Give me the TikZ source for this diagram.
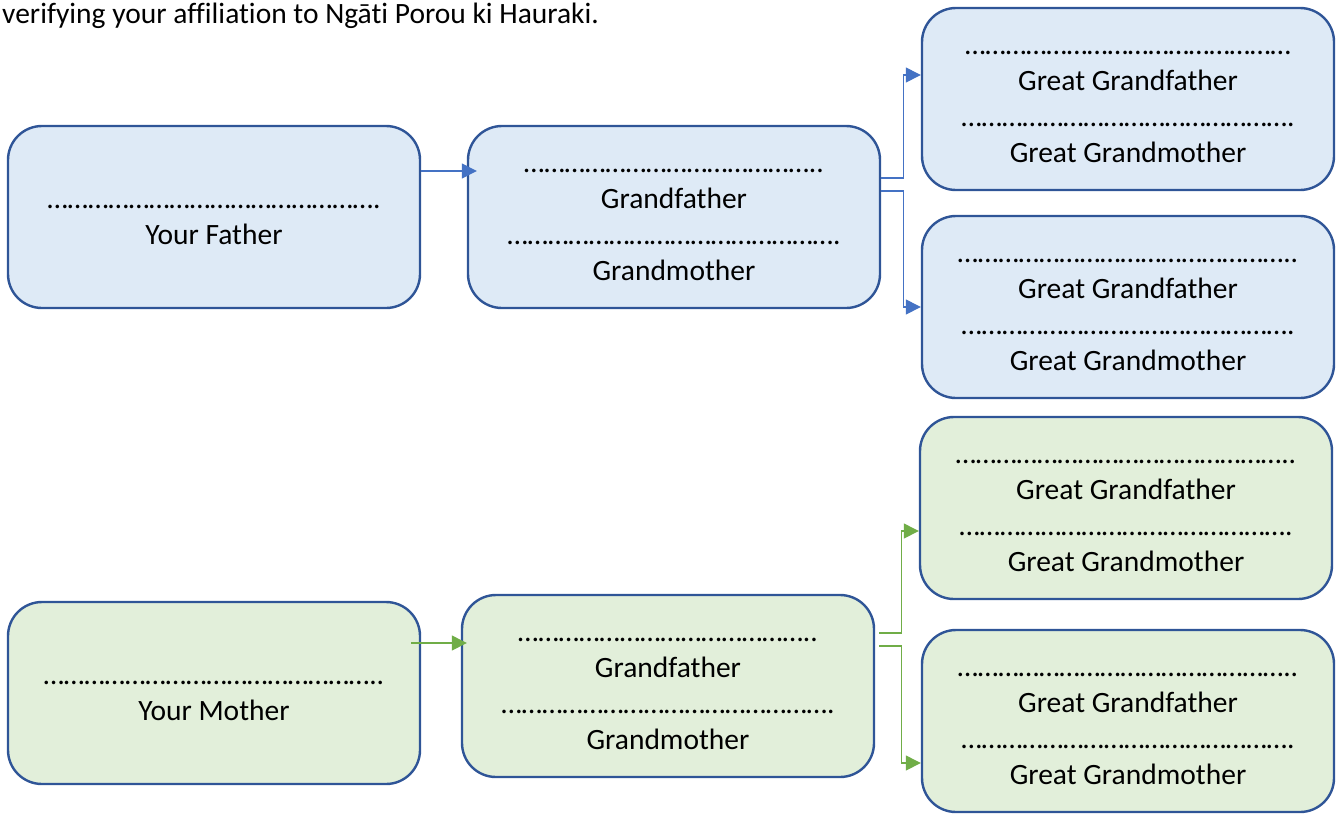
\documentclass[tikz,border=0pt]{standalone}
\usepackage{fontspec}
\setmainfont{Carlito}
\usepackage{tikz}
\usetikzlibrary{arrows.meta,positioning}

\definecolor{boxline}{HTML}{2F5597}
\definecolor{bluefill}{HTML}{DEEAF6}
\definecolor{greenfill}{HTML}{E2EFDA}
\definecolor{blueline}{HTML}{4472C4}
\definecolor{greenline}{HTML}{70AD47}

% row of ellipsis characters to write a name on
\newcommand{\nameline}[2]{\foreach \k in {1,...,#1}{…}#2}
% same, as the first row of a box (a bit lower)
\newcommand{\topline}[2]{\rule{0pt}{19pt}\nameline{#1}{#2}}

\tikzset{
  person/.style={draw=boxline,line width=2.4pt,rounded corners=34pt,
    minimum width=412pt,minimum height=182pt,align=center,
    font=\fontsize{29.5}{36}\selectfont},
  dad/.style={person,fill=bluefill},
  mum/.style={person,fill=greenfill},
  bluearrow/.style={draw=blueline,line width=1.3pt,-{Triangle[length=15pt,width=15pt]}},
  greenarrow/.style={draw=greenline,line width=1.3pt,-{Triangle[length=15pt,width=15pt]}}
}

\begin{document}
\begin{tikzpicture}[x=1pt,y=-1pt]
    \useasboundingbox (0,0) rectangle (1337,814);

    % heading line
    \node[anchor=base west,inner sep=0pt,
          font=\fontsize{29.5}{34}\selectfont\addfontfeature{RawFeature=-liga}] (intro) at (2,23)
        {verifying your affiliation to Ngāti Porou ki Hauraki.};

    % father's side
    \node[dad] (fa) at (214,217) {\topline{16}{.}\\Your Father};
    \node[dad] (gpF) at (674,217) {\topline{14}{..}\\Grandfather\\\nameline{16}{.}\\Grandmother};
    \node[dad] (ggA) at (1128,99) {\topline{16}{}\\Great Grandfather\\\nameline{16}{.}\\Great Grandmother};
    \node[dad] (ggB) at (1128,307) {\topline{16}{..}\\Great Grandfather\\\nameline{16}{.}\\Great Grandmother};

    % mother's side
    \node[mum] (mo) at (214,693) {\topline{16}{..}\\Your Mother};
    \node[mum] (gpM) at (668,686) {\topline{14}{..}\\Grandfather\\\nameline{16}{.}\\Grandmother};
    \node[mum] (ggC) at (1126,508) {\topline{16}{..}\\Great Grandfather\\\nameline{16}{.}\\Great Grandmother};
    \node[mum] (ggD) at (1128,721) {\topline{16}{..}\\Great Grandfather\\\nameline{16}{.}\\Great Grandmother};

    % links
    \draw[bluearrow] ([yshift=46pt]fa.east) -- ([xshift=10pt,yshift=46pt]gpF.west);
    \draw[bluearrow] ([yshift=39pt]gpF.east) -- ++(22,0) |- ([yshift=24pt]ggA.west);
    \draw[bluearrow] ([yshift=26pt]gpF.east) -- ++(22,0) |- (ggB.west);

    \draw[greenarrow] ([xshift=-10pt,yshift=50pt]mo.east) -- ([xshift=6pt,yshift=43pt]gpM.west);
    \draw[greenarrow] ([xshift=4pt,yshift=53pt]gpM.east) -- ++(22,0) |- ([yshift=-23pt]ggC.west);
    \draw[greenarrow] ([xshift=4pt,yshift=40pt]gpM.east) -- ++(22,0) |- ([yshift=-42pt]ggD.west);
\end{tikzpicture}
\end{document}
